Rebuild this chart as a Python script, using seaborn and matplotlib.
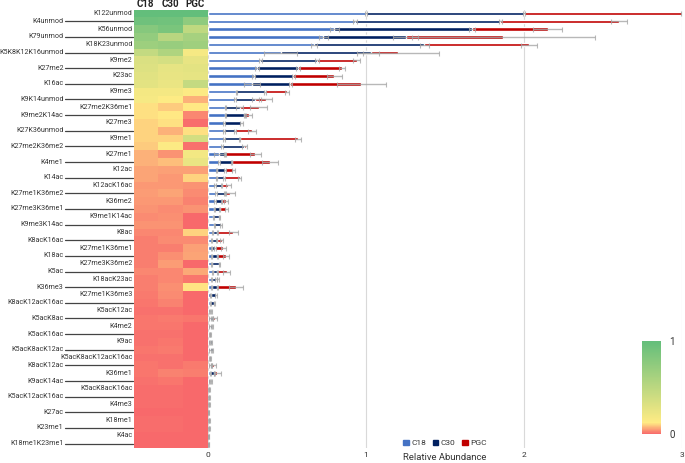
import numpy as np
import pandas as pd
import seaborn as sns
import matplotlib.pyplot as plt
from matplotlib.colors import LinearSegmentedColormap
from matplotlib.patches import Patch

# marques d'histones (ordre du haut vers le bas)
labels = ["K122unmod", "K4unmod", "K56unmod", "K79unmod", "K18K23unmod", "K5K8K12K16unmod",
          "K9me2", "K27me2", "K23ac", "K16ac", "K9me3", "K9K14unmod", "K27me2K36me1",
          "K9me2K14ac", "K27me3", "K27K36unmod", "K9me1", "K27me2K36me2", "K27me1", "K4me1",
          "K12ac", "K14ac", "K12acK16ac", "K27me1K36me2", "K36me2", "K27me3K36me1",
          "K9me1K14ac", "K9me3K14ac", "K8ac", "K8acK16ac", "K27me1K36me1", "K18ac",
          "K27me3K36me2", "K5ac", "K18acK23ac", "K36me3", "K27me1K36me3", "K8acK12acK16ac",
          "K5acK12ac", "K5acK8ac", "K4me2", "K5acK16ac", "K9ac", "K5acK8acK12ac",
          "K5acK8acK12acK16ac", "K8acK12ac", "K36me1", "K9acK14ac", "K5acK8acK16ac",
          "K5acK12acK16ac", "K4me3", "K27ac", "K18me1", "K23me1", "K4ac", "K18me1K23me1"]

c18 = [1.0, 0.93, 0.80, 0.73, 0.67, 0.46, 0.33, 0.31, 0.29, 0.28, 0.18, 0.17, 0.11, 0.11,
       0.10, 0.10, 0.10, 0.09, 0.07, 0.07, 0.055, 0.055, 0.044, 0.05, 0.044, 0.04, 0.034,
       0.04, 0.03, 0.023, 0.023, 0.023, 0.023, 0.03, 0.023, 0.023, 0.017, 0.015, 0.01,
       0.012, 0.012, 0.008, 0.01, 0.012, 0.008, 0.012, 0.015, 0.01, 0.005, 0.005, 0.005,
       0.003, 0.005, 0.005, 0.003, 0.003]
c30 = [1.0, 0.92, 0.87, 0.52, 0.70, 0.57, 0.36, 0.26, 0.25, 0.24, 0.18, 0.13, 0.09, 0.12,
       0.11, 0.07, 0.10, 0.14, 0.04, 0.08, 0.053, 0.046, 0.043, 0.057, 0.043, 0.034, 0.038,
       0.042, 0.03, 0.032, 0.021, 0.036, 0.049, 0.029, 0.028, 0.036, 0.034, 0.025, 0.01,
       0.018, 0.015, 0.008, 0.014, 0.018, 0.008, 0.01, 0.025, 0.012, 0.005, 0.005, 0.005,
       0.002, 0.005, 0.005, 0.002, 0.002]
pgc = [1.0, 0.75, 0.48, 0.62, 0.66, 0.17, 0.25, 0.28, 0.26, 0.45, 0.14, 0.07, 0.12, 0.03,
       0.005, 0.11, 0.37, 0.01, 0.19, 0.24, 0.053, 0.10, 0.042, 0.032, 0.027, 0.042, 0.0,
       0.0, 0.10, 0.032, 0.053, 0.055, 0.0, 0.059, 0.014, 0.116, 0.0, 0.0, 0.0,
       0.014, 0.0, 0.0, 0.0, 0.0, 0.0, 0.016, 0.02, 0.0, 0.0, 0.0, 0.0,
       0.0, 0.0, 0.0, 0.0, 0.0]

err_c18 = [0.005, 0.01, 0.027, 0.03, 0.02, 0.105, 0.01, 0.01, 0.01, 0.05, 0.005, 0.005, 0.005,
           0.005, 0.005, 0.005, 0.005, 0.005, 0.03, 0.005] + [0.004] * 36
err_c30 = [0.005, 0.01, 0.02, 0.08, 0.03, 0.05, 0.01, 0.01, 0.01, 0.01, 0.005, 0.02, 0.02,
           0.005, 0.01, 0.005, 0.005, 0.015, 0.005, 0.005] + [0.004] * 36
err_pgc = [0.005, 0.05, 0.093, 0.58, 0.05, 0.26, 0.025, 0.02, 0.045, 0.155, 0.015, 0.035,
           0.055, 0.02, 0.0, 0.025, 0.02, 0.0, 0.035, 0.05, 0.01, 0.01, 0.015, 0.03, 0.01,
           0.01, 0.0, 0.0, 0.03, 0.01, 0.015, 0.02, 0.0, 0.02, 0.005, 0.045, 0.0, 0.0, 0.0,
           0.01, 0.0, 0.0, 0.0, 0.0, 0.0, 0.01, 0.025, 0.0, 0.0, 0.0, 0.0, 0.0, 0.0, 0.0,
           0.0, 0.0]

colonnes = ["C18", "C30", "PGC"]
couleurs = ["#4472C4", "#002060", "#C00000"]

sns.set_theme(style="white")
plt.rcParams['font.family'] = ['Roboto', 'DejaVu Sans']

W, H = 685, 463
fig = plt.figure(figsize=(W / 100, H / 100), dpi=100)

top, bot = 9.5, 447.5
ax_hm = fig.add_axes([133.5 / W, 1 - bot / H, 74 / W, (bot - top) / H])
ax_bar = fig.add_axes([208 / W, 1 - bot / H, 474 / W, (bot - top) / H])
cax = fig.add_axes([642 / W, 1 - 434 / H, 19 / W, 93 / H])

# heatmap
df_hm = pd.DataFrame({"C18": c18, "C30": c30, "PGC": pgc}, index=labels)
cmap = LinearSegmentedColormap.from_list(
    "ryg", [(0, "#F8696B"), (0.12, "#FFEB84"), (1, "#63BE7B")])
sns.heatmap(df_hm, cmap=cmap, vmin=0, vmax=1, ax=ax_hm, cbar=True, cbar_ax=cax,
            xticklabels=False, yticklabels=False)
for i, col in enumerate(colonnes):
    ax_hm.text(i + 0.5, -0.75, col, ha="center", va="center", fontsize=7, fontweight="bold",
               color="#222222")

n = len(labels)
for i, lab in enumerate(labels):
    y = i + 0.5
    if i % 2 == 0:
        ax_hm.text(-0.05, y, lab, ha="right", va="center", fontsize=5.1, color="#333333",
                   clip_on=False)
    else:
        ax_hm.text(-2.84, y, lab, ha="right", va="center", fontsize=5.1, color="#333333",
                   clip_on=False)
        ax_hm.plot([-2.78, -0.02], [y, y], color="#444444", lw=0.9, clip_on=False)

# barres empilees
df = pd.DataFrame({"marque": labels, "C18": c18, "C30": c30, "PGC": pgc})
cum1 = df["C18"]
cum2 = df["C18"] + df["C30"]
cum3 = cum2 + df["PGC"]
sns.barplot(x=cum3, y=df["marque"], color=couleurs[2], width=0.44, ax=ax_bar, saturation=1)
sns.barplot(x=cum2, y=df["marque"], color=couleurs[1], width=0.44, ax=ax_bar, saturation=1)
sns.barplot(x=cum1, y=df["marque"], color=couleurs[0], width=0.44, ax=ax_bar, saturation=1)

pos = np.arange(n)
for cum, err in [(cum1, err_c18), (cum2, err_c30), (cum3, err_pgc)]:
    err = np.array(err)
    m = err > 0
    eb = ax_bar.errorbar(cum[m], pos[m], xerr=err[m], fmt="none", ecolor="#a6a6a6",
                         elinewidth=1.0, capsize=1.8, capthick=0.8, alpha=0.8)
    for cap in eb[1]:
        cap.set_color("#7f7f7f")

ax_bar.set_xlim(0, 3)
ax_bar.set_ylim(n - 0.5, -0.5)
ax_bar.set_xticks([0, 1, 2, 3])
ax_bar.set_xticklabels(["0", "1", "2", "3"], fontsize=6, color="#333333")
ax_bar.set_yticks([])
ax_bar.set_xlabel("")
ax_bar.set_ylabel("")
ax_bar.tick_params(axis="x", length=0, pad=3.5)
ax_bar.grid(axis="x", color="#d9d9d9", lw=0.8)
ax_bar.set_axisbelow(True)
for s in ax_bar.spines.values():
    s.set_visible(False)

fig.text(445 / W, 1 - 457 / H, "Relative Abundance", ha="center", va="center",
         fontsize=6.8, color="#333333")

handles = [Patch(color=c) for c in couleurs]
fig.legend(handles, colonnes, loc="center", bbox_to_anchor=(445 / W, 1 - 443 / H), ncol=3,
           frameon=False, fontsize=6, handlelength=0.7, handleheight=0.7,
           columnspacing=0.8, handletextpad=0.3, labelcolor="#333333")

# barre de couleur
cbar = ax_hm.collections[0].colorbar
cbar.set_ticks([0, 1])
cbar.set_ticklabels(["0", "1"], fontsize=7, color="#333333")
cax.tick_params(length=0, pad=6)
cbar.outline.set_visible(False)

plt.savefig("out.png", dpi=100)
